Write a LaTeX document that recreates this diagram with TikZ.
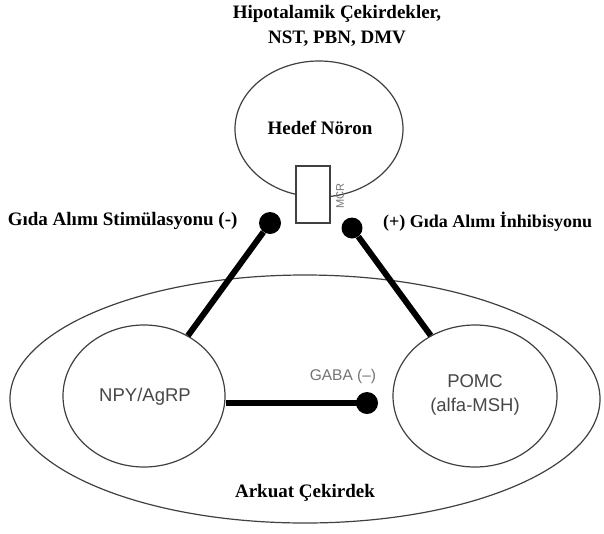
\documentclass[tikz,border=0pt]{standalone}
\usepackage{fontspec}
\usetikzlibrary{shapes.geometric}
\setmainfont{Liberation Serif}
\newfontfamily\arialf{Liberation Sans}
\begin{document}
\begin{tikzpicture}[x=1pt,y=-1pt,
  thin line/.style={draw=black!75,line width=1.2pt},
  thick link/.style={line width=6pt,black},
  blob/.style={circle,fill=black,inner sep=0pt,minimum size=22pt},
  bold label/.style={font=\fontsize{19}{25}\selectfont\bfseries},
  sans label/.style={font=\arialf\fontsize{18.5}{24}\selectfont,text=black!72}]
\useasboundingbox (0,0) rectangle (604,533);
% outer ellipse
\draw[thin line] (305,399) ellipse [x radius=295, y radius=124];
% target neuron
\draw[thin line,fill=white] (319,129) ellipse [x radius=84, y radius=68];
\node[draw=black!75,line width=1.2pt,fill=white,minimum width=34pt,minimum height=57pt,inner sep=0pt] (mcr) at (313,194.5) {};
\node[font=\arialf\fontsize{11}{12}\selectfont,text=black!55,rotate=90] (mcrl) at (340,196) {MCR};
\node[bold label,align=center] (title) at (337,26) {Hipotalamik Çekirdekler,\\NST, PBN, DMV};
\node[bold label] (hedef) at (320,128) {Hedef Nöron};
% nuclei
\node[draw=black!75,line width=1.2pt,ellipse,minimum width=162pt,minimum height=142pt,inner sep=0pt] (npy) at (144,396) {};
\node[sans label] at (145,397) {NPY/AgRP};
\node[draw=black!75,line width=1.2pt,ellipse,minimum width=164pt,minimum height=142pt,inner sep=0pt] (pomc) at (475,396) {};
\node[sans label,align=center] at (475,395) {POMC\\(alfa-MSH)};
% dots
\node[blob] (dl) at (270,223) {};
\node[blob,minimum size=21pt] (dr) at (352,228) {};
\node[blob] (dg) at (367,403) {};
\draw[thick link] (dl) -- (npy);
\draw[thick link] (dr) -- (pomc);
\draw[thick link] (npy.east |- dg) -- (dg.center);
% labels
\node[bold label,anchor=east] (ll) at (241,221) {Gıda Alımı Stimülasyonu (-)};
\node[bold label,font=\fontsize{18}{22}\selectfont\bfseries,anchor=west,inner xsep=0pt] (rl) at (383,222) {(+) Gıda Alımı İnhibisyonu};
\node[font=\arialf\fontsize{15.5}{18}\selectfont,text=black!55] (gaba) at (343,376) {GABA (–)};
\node[bold label] (ark) at (305,493) {Arkuat Çekirdek};
\end{tikzpicture}
\end{document}
